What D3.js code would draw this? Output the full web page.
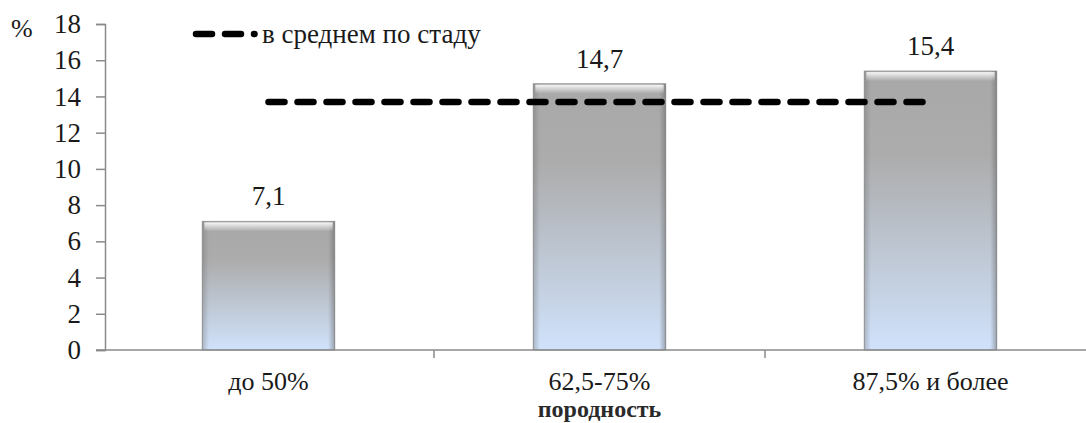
<!DOCTYPE html>
<html>
<head>
<meta charset="utf-8">
<script src="https://cdn.jsdelivr.net/npm/d3@7"></script>
<style>
  body { margin: 0; background: #fff; }
</style>
</head>
<body>
<div id="chart"></div>
<script>
// chart data
var categories = ['до 50%', '62,5-75%', '87,5% и более'];
var values = [7.1, 14.7, 15.4];
var valueLabels = ['7,1', '14,7', '15,4'];
var herdAverage = 13.7;
var yTicks = [0, 2, 4, 6, 8, 10, 12, 14, 16, 18];

var svgWidth = 1086;
var svgHeight = 423;
var serif = '"Liberation Serif", "Times New Roman", serif';
var ink = '#1a1a1a';
var axisGray = '#8a8a8a';

var svg = d3.select('#chart')
    .append('svg')
    .attr('width', svgWidth)
    .attr('height', svgHeight);

// gradients for the bars
var defs = svg.append('defs');
var grad = defs.append('linearGradient')
    .attr('id', 'barFill')
    .attr('x1', 0).attr('y1', 0).attr('x2', 0).attr('y2', 1);
grad.append('stop').attr('offset', '0%').attr('stop-color', '#a8a8a8');
grad.append('stop').attr('offset', '30%').attr('stop-color', '#acacac');
grad.append('stop').attr('offset', '100%').attr('stop-color', '#d0e2fb');

var topGrad = defs.append('linearGradient')
    .attr('id', 'barTop')
    .attr('x1', 0).attr('y1', 0).attr('x2', 0).attr('y2', 1);
topGrad.append('stop').attr('offset', '0%').attr('stop-color', '#ffffff').attr('stop-opacity', 0.9);
topGrad.append('stop').attr('offset', '100%').attr('stop-color', '#ffffff').attr('stop-opacity', 0);

var sideGrad = defs.append('linearGradient')
    .attr('id', 'barSide')
    .attr('x1', 0).attr('y1', 0).attr('x2', 1).attr('y2', 0);
sideGrad.append('stop').attr('offset', '0%').attr('stop-color', '#666').attr('stop-opacity', 0.35);
sideGrad.append('stop').attr('offset', '5%').attr('stop-color', '#666').attr('stop-opacity', 0);
sideGrad.append('stop').attr('offset', '95%').attr('stop-color', '#666').attr('stop-opacity', 0);
sideGrad.append('stop').attr('offset', '100%').attr('stop-color', '#555').attr('stop-opacity', 0.45);

// scales
var x = d3.scaleBand()
    .domain(categories)
    .range([103, 1096])
    .paddingInner(0.6)
    .paddingOuter(0.3);

var y = d3.scaleLinear()
    .domain([0, 18])
    .range([350, 24]);

// y axis
var yAxis = svg.append('g')
    .attr('transform', 'translate(105,0)')
    .call(d3.axisLeft(y).tickValues(yTicks).tickSize(9).tickPadding(15));
yAxis.select('.domain').attr('stroke', axisGray).attr('stroke-width', 1.5);
yAxis.selectAll('.tick line').attr('stroke', axisGray).attr('stroke-width', 1.5);
yAxis.selectAll('.tick text')
    .style('font-family', serif)
    .style('font-size', '27px')
    .attr('fill', ink);

svg.append('text')
    .attr('x', 11)
    .attr('y', 37)
    .style('font-family', serif)
    .style('font-size', '26px')
    .attr('fill', ink)
    .text('%');

// bars
var bars = svg.selectAll('.bar')
    .data(values)
    .enter()
    .append('g')
    .attr('class', 'bar');

bars.append('rect')
    .attr('x', (d, i) => x(categories[i]))
    .attr('y', d => y(d))
    .attr('width', x.bandwidth())
    .attr('height', d => y(0) - y(d))
    .attr('fill', 'url(#barFill)')
    .attr('stroke', '#9a9a9a')
    .attr('stroke-width', 1);

bars.append('rect')
    .attr('x', (d, i) => x(categories[i]))
    .attr('y', d => y(d))
    .attr('width', x.bandwidth())
    .attr('height', d => y(0) - y(d))
    .attr('fill', 'url(#barSide)');

bars.append('rect')
    .attr('x', (d, i) => x(categories[i]) + 2)
    .attr('y', d => y(d) + 1)
    .attr('width', x.bandwidth() - 4)
    .attr('height', 9)
    .attr('fill', 'url(#barTop)');

// value labels
svg.selectAll('.vlabel')
    .data(values)
    .enter()
    .append('text')
    .attr('class', 'vlabel')
    .attr('x', (d, i) => x(categories[i]) + x.bandwidth() / 2)
    .attr('y', d => y(d) - 16)
    .attr('text-anchor', 'middle')
    .style('font-family', serif)
    .style('font-size', '27px')
    .attr('fill', ink)
    .text((d, i) => valueLabels[i]);

// x axis
var xAxis = svg.append('g')
    .attr('transform', `translate(0,${y(0)})`);
xAxis.append('line')
    .attr('x1', 96).attr('x2', svgWidth)
    .attr('y1', 0).attr('y2', 0)
    .attr('stroke', axisGray).attr('stroke-width', 1.5);
xAxis.selectAll('.xtick')
    .data(categories.slice(1))
    .enter()
    .append('line')
    .attr('x1', d => x(d) - x.step() * x.paddingInner() / 2)
    .attr('x2', d => x(d) - x.step() * x.paddingInner() / 2)
    .attr('y1', 0).attr('y2', 8)
    .attr('stroke', axisGray).attr('stroke-width', 1.5);
xAxis.selectAll('.xlabel')
    .data(categories)
    .enter()
    .append('text')
    .attr('x', d => x(d) + x.bandwidth() / 2)
    .attr('y', 40)
    .attr('text-anchor', 'middle')
    .style('font-family', serif)
    .style('font-size', '26px')
    .attr('fill', ink)
    .text(d => d);

svg.append('text')
    .attr('x', x(categories[1]) + x.bandwidth() / 2)
    .attr('y', 417)
    .attr('text-anchor', 'middle')
    .style('font-family', serif)
    .style('font-size', '24px')
    .style('font-weight', 'bold')
    .attr('fill', '#2a2a2a')
    .text('породность');

// herd average line, centre of first to centre of last category
svg.append('line')
    .attr('x1', x(categories[0]) + x.bandwidth() / 2)
    .attr('x2', x(categories[2]) + x.bandwidth() / 2)
    .attr('y1', y(herdAverage))
    .attr('y2', y(herdAverage))
    .attr('stroke', '#000')
    .attr('stroke-width', 6.5)
    .attr('stroke-linecap', 'round')
    .attr('stroke-dasharray', '16,13');

// legend
var legend = svg.append('g').attr('transform', 'translate(0,34)');
legend.append('line')
    .attr('x1', 196).attr('x2', 254.5)
    .attr('y1', 0).attr('y2', 0)
    .attr('stroke', '#000')
    .attr('stroke-width', 6.5)
    .attr('stroke-linecap', 'round')
    .attr('stroke-dasharray', '16,13');
legend.append('text')
    .attr('x', 262)
    .attr('y', 9)
    .style('font-family', serif)
    .style('font-size', '27px')
    .attr('fill', ink)
    .text('в среднем по стаду');
</script>
</body>
</html>
